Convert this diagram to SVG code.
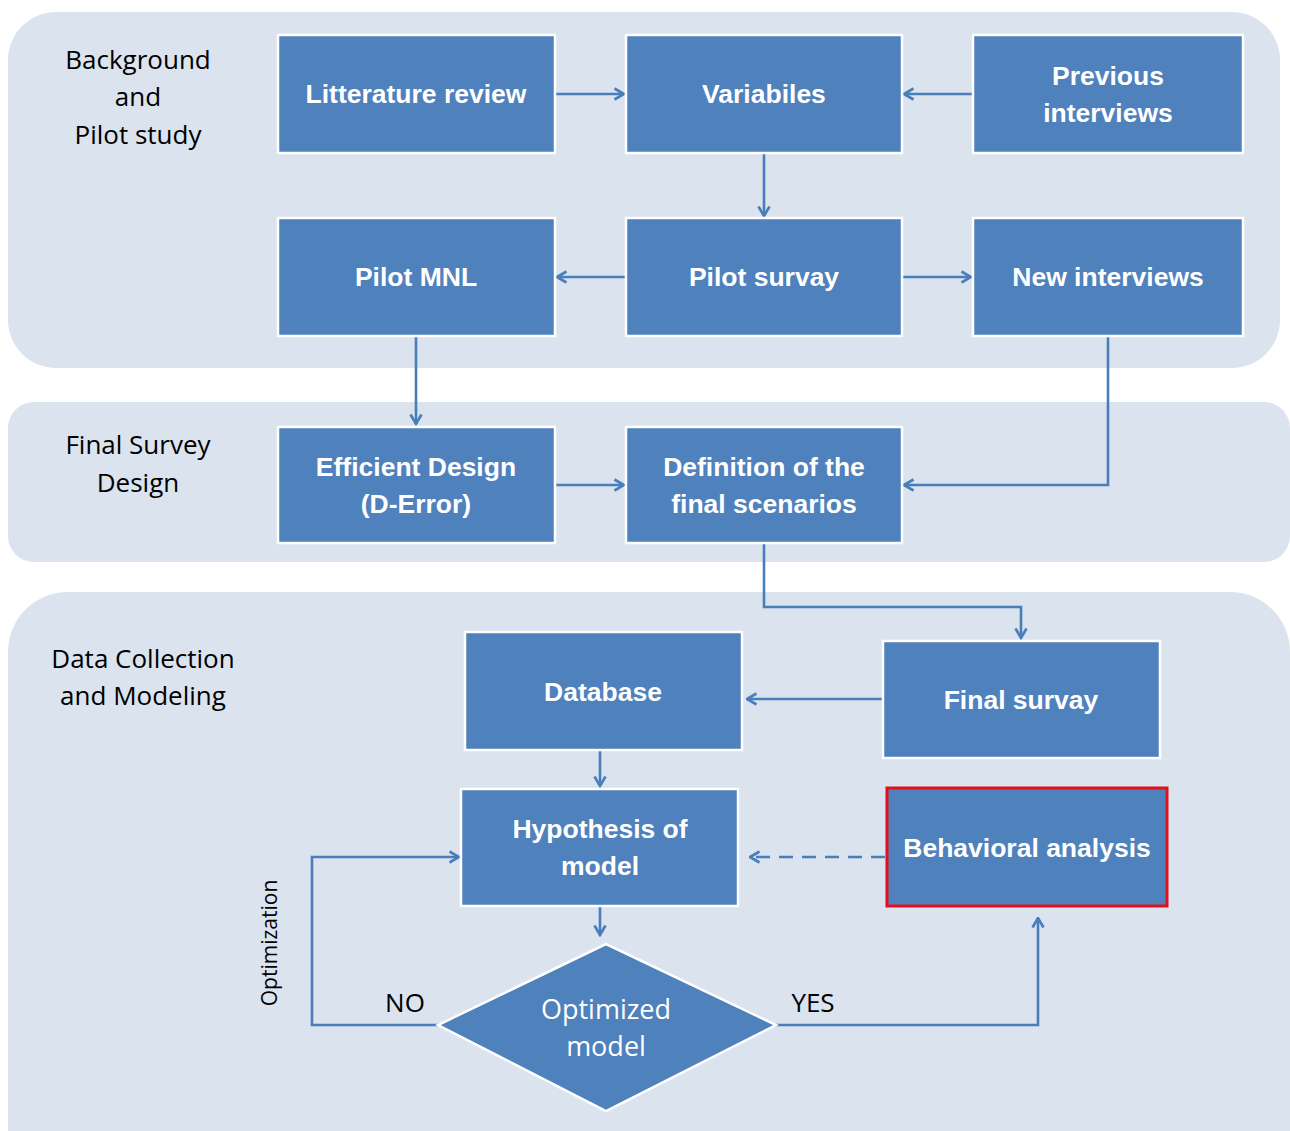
<svg xmlns="http://www.w3.org/2000/svg" width="1290" height="1131" viewBox="0 0 1290 1131">
<defs>
<style>
.panel{fill:#dae3ee;}
.box{fill:#4f81bd;stroke:#ffffff;stroke-width:2.5;}
.bt{font-family:"Liberation Sans",Arial,sans-serif;font-weight:bold;font-size:26.5px;fill:#ffffff;text-anchor:middle;}
.lbl{font-family:"Open Sans","Liberation Sans",sans-serif;font-size:26px;fill:#000000;text-anchor:middle;}
.con{fill:none;stroke:#4a7ebb;stroke-width:2.6;marker-end:url(#ah);}
</style>
<marker id="ah" viewBox="0 0 14 14" refX="12.5" refY="7" markerWidth="14" markerHeight="14" markerUnits="userSpaceOnUse" orient="auto">
<path d="M3,1.5 L12.5,7 L3,12.5" fill="none" stroke="#4a7ebb" stroke-width="2.6"/>
</marker>
</defs>
<rect width="1290" height="1131" fill="#ffffff"/>
<g id="panels">
<rect class="panel" x="8" y="12" width="1272" height="356" rx="48" ry="48"/>
<rect class="panel" x="8" y="402" width="1282" height="160" rx="26" ry="26"/>
<rect class="panel" x="8" y="592" width="1282" height="600" rx="60" ry="60"/>
</g>
<g id="section-labels">
<text class="lbl" x="138" y="69">Background</text>
<text class="lbl" x="138" y="106">and</text>
<text class="lbl" x="138" y="144">Pilot study</text>
<text class="lbl" x="138" y="454">Final Survey</text>
<text class="lbl" x="138" y="492">Design</text>
<text class="lbl" x="143" y="668">Data Collection</text>
<text class="lbl" x="143" y="705">and Modeling</text>
</g>
<g id="connectors">
<path class="con" d="M555,94 H624"/>
<path class="con" d="M973,94 H904"/>
<path class="con" d="M764,153 V216"/>
<path class="con" d="M626,277 H557"/>
<path class="con" d="M902,277 H971"/>
<path class="con" d="M416,336 V424"/>
<path class="con" d="M1108,336 V485 H904"/>
<path class="con" d="M555,485 H624"/>
<path class="con" d="M764,543 V607 H1021 V638"/>
<path class="con" d="M883,699 H747"/>
<path class="con" d="M600,750 V786"/>
<path class="con" d="M600,906 V935"/>
<path class="con" d="M885,857 H750" stroke-dasharray="14,9"/>
<path class="con" d="M440,1025 H312 V857 H459"/>
<path class="con" d="M775,1025 H1038 V918"/>
</g>
<g id="node-litterature">
<rect class="box" x="278" y="35" width="277" height="118"/>
<text class="bt" x="416" y="103">Litterature review</text>
</g>
<g id="node-variabiles">
<rect class="box" x="626" y="35" width="276" height="118"/>
<text class="bt" x="764" y="103">Variabiles</text>
</g>
<g id="node-previous">
<rect class="box" x="973" y="35" width="270" height="118"/>
<text class="bt" x="1108" y="85">Previous</text>
<text class="bt" x="1108" y="122">interviews</text>
</g>
<g id="node-pilotmnl">
<rect class="box" x="278" y="218" width="277" height="118"/>
<text class="bt" x="416" y="286">Pilot MNL</text>
</g>
<g id="node-pilotsurvay">
<rect class="box" x="626" y="218" width="276" height="118"/>
<text class="bt" x="764" y="286">Pilot survay</text>
</g>
<g id="node-newinterviews">
<rect class="box" x="973" y="218" width="270" height="118"/>
<text class="bt" x="1108" y="286">New interviews</text>
</g>
<g id="node-efficient">
<rect class="box" x="278" y="427" width="277" height="116"/>
<text class="bt" x="416" y="476">Efficient Design</text>
<text class="bt" x="416" y="513">(D-Error)</text>
</g>
<g id="node-definition">
<rect class="box" x="626" y="427" width="276" height="116"/>
<text class="bt" x="764" y="476">Definition of the</text>
<text class="bt" x="764" y="513">final scenarios</text>
</g>
<g id="node-database">
<rect class="box" x="465" y="632" width="277" height="118"/>
<text class="bt" x="603" y="701">Database</text>
</g>
<g id="node-finalsurvay">
<rect class="box" x="883" y="641" width="277" height="117"/>
<text class="bt" x="1021" y="709">Final survay</text>
</g>
<g id="node-hypothesis">
<rect class="box" x="461" y="789" width="277" height="117"/>
<text class="bt" x="600" y="838">Hypothesis of</text>
<text class="bt" x="600" y="875">model</text>
</g>
<g id="node-behavioral">
<rect x="887" y="788" width="280" height="118" fill="#4f81bd" stroke="#e3101a" stroke-width="3"/>
<text class="bt" x="1027" y="857">Behavioral analysis</text>
</g>
<g id="node-optimized">
<polygon points="606,944 776,1025 606,1111 438,1025" fill="#4f81bd" stroke="#ffffff" stroke-width="2.5"/>
<text x="606" y="1019" font-family="'Open Sans','Liberation Sans',sans-serif" font-size="27" fill="#ffffff" text-anchor="middle">Optimized</text>
<text x="606" y="1056" font-family="'Open Sans','Liberation Sans',sans-serif" font-size="27" fill="#ffffff" text-anchor="middle">model</text>
</g>
<g id="edge-labels">
<text class="lbl" x="405" y="1012">NO</text>
<text class="lbl" x="813" y="1012">YES</text>
<text x="0" y="0" transform="translate(277,943) rotate(-90)" font-family="'Open Sans','Liberation Sans',sans-serif" font-size="21" fill="#000000" text-anchor="middle">Optimization</text>
</g>
</svg>
